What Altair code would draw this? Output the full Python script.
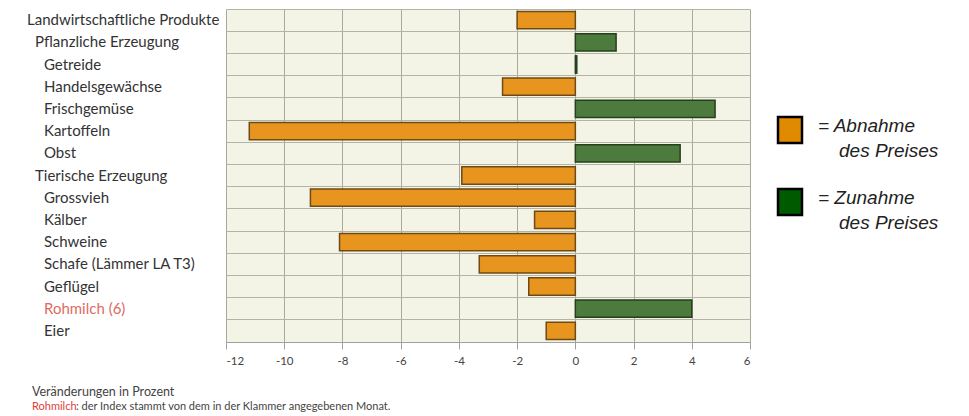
import altair as alt
import pandas as pd

# Price changes of agricultural products, in percent
categories = [
    "Landwirtschaftliche Produkte",
    "Pflanzliche Erzeugung",
    "Getreide",
    "Handelsgewächse",
    "Frischgemüse",
    "Kartoffeln",
    "Obst",
    "Tierische Erzeugung",
    "Grossvieh",
    "Kälber",
    "Schweine",
    "Schafe (Lämmer LA T3)",
    "Geflügel",
    "Rohmilch (6)",
    "Eier",
]
# hierarchy depth of each product group (0 = total, 1 = sector, 2 = product)
levels = [0, 1, 2, 2, 2, 2, 2, 1, 2, 2, 2, 2, 2, 2, 2]
changes = [-2.0, 1.4, 0.05, -2.5, 4.8, -11.2, 3.6, -3.9, -9.1, -1.4, -8.1, -3.3, -1.6, 4.0, -1.0]

x_ticks = [-12, -10, -8, -6, -4, -2, 0, 2, 4, 6]

legend_first = ["= Abnahme", "= Zunahme"]
legend_second = ["des Preises", "des Preises"]
note_lines = ["Veränderungen in Prozent", "Rohmilch", ": der Index stammt von dem in der Klammer  angegebenen Monat."]

df = pd.DataFrame({"produkt": categories, "ebene": levels, "wert": changes})
blank = pd.DataFrame({"k": [0]})

W, H = 524, 333
FONT = "Lato"
ORANGE, ORANGE_EDGE = "#e8951f", "#6e4a16"
GREEN, GREEN_EDGE = "#4c7b3d", "#24401c"

y_scale = alt.Scale(domain=categories, paddingInner=0, paddingOuter=0)
# horizontal lines between the rows come from the band axis grid
y_axis = alt.Axis(labels=False, ticks=False, domain=False, grid=True,
                  bandPosition=0, gridColor="#b4b4a6", gridWidth=1, title=None)
y_enc = alt.Y("produkt:N", sort=categories, scale=y_scale, axis=y_axis)

bars = alt.Chart(df).mark_bar(height={"band": 0.78}, strokeWidth=1.5).encode(
    x=alt.X(
        "wert:Q",
        scale=alt.Scale(domain=[-12, 6], nice=False, zero=False),
        axis=alt.Axis(
            values=x_ticks, grid=True, gridColor="#a8a89c", gridWidth=1,
            domainColor="#a0a0a0", tickColor="#a0a0a0", tickSize=7,
            labelFont=FONT, labelFontSize=11.5, labelColor="#444",
            labelExpr="toString(datum.value)",
            labelPadding=6, title=None,
        ),
    ),
    x2=alt.datum(0),
    y=y_enc,
    fill=alt.condition("datum.wert < 0", alt.value(ORANGE), alt.value(GREEN)),
    stroke=alt.condition("datum.wert < 0", alt.value(ORANGE_EDGE), alt.value(GREEN_EDGE)),
)

# category labels, indented by hierarchy depth
label_layers = []
for depth, px in [(0, -199), (1, -191), (2, -182)]:
    label_layers.append(
        alt.Chart(df).transform_filter(f"datum.ebene == {depth}").mark_text(
            align="left", baseline="middle", font=FONT, fontSize=15,
        ).encode(
            x=alt.value(px),
            y=y_enc,
            text="produkt:N",
            color=alt.condition("datum.produkt == 'Rohmilch (6)'",
                                alt.value("#e06a63"), alt.value("#333333")),
        )
    )

# legend on the right
legend = []
for i, fill in enumerate(["#e08a00", "#005a00"]):
    top = 108 + i * 72
    legend.append(
        alt.Chart(blank).mark_rect(fill=fill, stroke="#000", strokeWidth=2.5).encode(
            x=alt.value(552), x2=alt.value(576), y=alt.value(top), y2=alt.value(top + 26),
        )
    )
    legend.append(
        alt.Chart(blank).mark_text(
            text=legend_first[i], align="left", baseline="alphabetic", font="Liberation Sans",
            fontSize=19, fontStyle="italic", color="#222",
        ).encode(x=alt.value(592), y=alt.value(top + 15))
    )
    legend.append(
        alt.Chart(blank).mark_text(
            text=legend_second[i], align="left", baseline="alphabetic", font="Liberation Sans",
            fontSize=19, fontStyle="italic", color="#222",
        ).encode(x=alt.value(613), y=alt.value(top + 40))
    )

# footnotes below the axis
notes = [
    alt.Chart(blank).mark_text(text=note_lines[0], align="left", baseline="middle",
                               font=FONT, fontSize=12.5, color="#444").encode(
        x=alt.value(-194), y=alt.value(383)),
    alt.Chart(blank).mark_text(text=note_lines[1], align="left", baseline="middle",
                               font=FONT, fontSize=11, color="#e0403c").encode(
        x=alt.value(-194), y=alt.value(398)),
    alt.Chart(blank).mark_text(text=note_lines[2], align="left", baseline="middle",
                               font=FONT, fontSize=11, color="#444").encode(
        x=alt.value(-150), y=alt.value(398)),
]

chart = alt.layer(bars, *label_layers, *legend, *notes).properties(
    width=W, height=H,
    autosize=alt.AutoSizeParams(type="none"),
    padding={"left": 226, "top": 9, "right": 219, "bottom": 74},
    background="#ffffff",
).configure_view(fill="#f4f4e6", stroke=None)

chart.save("out.html", embed_options={"renderer": "svg", "actions": False})
